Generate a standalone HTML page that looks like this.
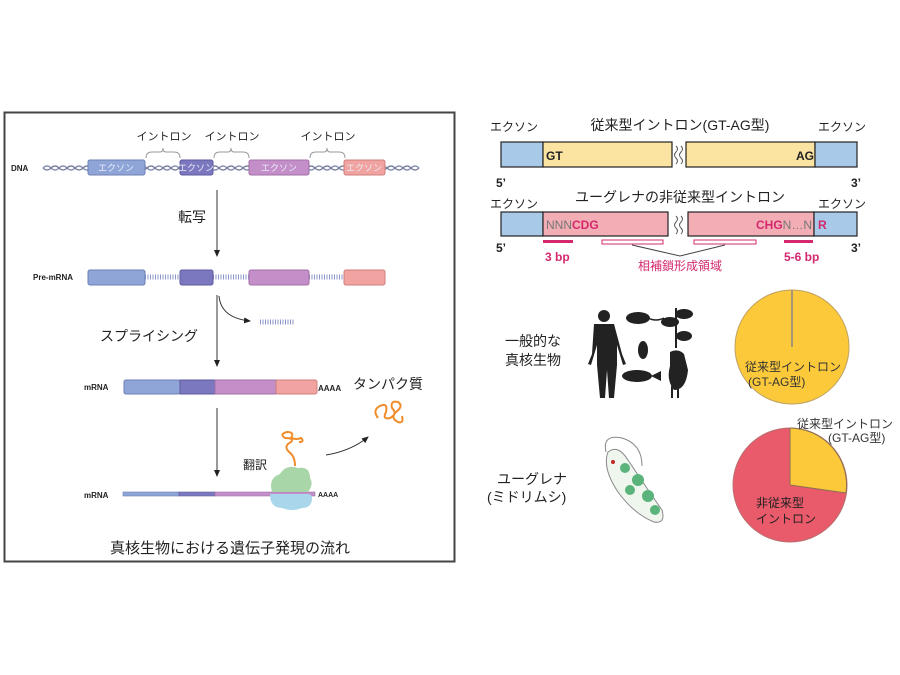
<!DOCTYPE html>
<html><head><meta charset="utf-8"><style>
html,body{margin:0;padding:0;background:#fff}
svg{display:block}
text{font-family:"Liberation Sans","Noto Sans CJK JP",sans-serif}
</style></head><body>
<svg width="900" height="675" viewBox="0 0 900 675" xmlns="http://www.w3.org/2000/svg">
<defs>
<marker id="ah" markerWidth="8" markerHeight="8" refX="6" refY="4" orient="auto"><path d="M0,1 L7,4 L0,7 z" fill="#222"/></marker>
</defs>
<rect x="4.5" y="112.5" width="450" height="449" fill="#fff" stroke="#444" stroke-width="2"/>
<path d="M43,168 q4,-4 8,0 t8,0 t8,0 t8,0 t8,0 t8,0 t8,0 t8,0 t8,0 t8,0 t8,0 t8,0 t8,0 t8,0 t8,0 t8,0 t8,0 t8,0 t8,0 t8,0 t8,0 t8,0 t8,0 t8,0 t8,0 t8,0 t8,0 t8,0 t8,0 t8,0 t8,0 t8,0 t8,0 t8,0 t8,0 t8,0 t8,0 t8,0 t8,0 t8,0 t8,0 t8,0 t8,0 t8,0 t8,0 t8,0 t8,0" fill="none" stroke="#8a94b8" stroke-width="1.5"/>
<path d="M43,168 q4,4 8,0 t8,0 t8,0 t8,0 t8,0 t8,0 t8,0 t8,0 t8,0 t8,0 t8,0 t8,0 t8,0 t8,0 t8,0 t8,0 t8,0 t8,0 t8,0 t8,0 t8,0 t8,0 t8,0 t8,0 t8,0 t8,0 t8,0 t8,0 t8,0 t8,0 t8,0 t8,0 t8,0 t8,0 t8,0 t8,0 t8,0 t8,0 t8,0 t8,0 t8,0 t8,0 t8,0 t8,0 t8,0 t8,0 t8,0" fill="none" stroke="#6d7494" stroke-width="1.2"/>
<text x="11" y="171" font-size="8" font-weight="bold" fill="#222">DNA</text>
<g stroke-width="1">
<rect x="88" y="160" width="57" height="15" rx="2" fill="#8fa5d8" stroke="#6c7fb5"/>
<rect x="180" y="160" width="33" height="15" rx="2" fill="#7b78bf" stroke="#5d5a9e"/>
<rect x="249" y="160" width="60" height="15" rx="2" fill="#c48fc9" stroke="#a06fa6"/>
<rect x="344" y="160" width="41" height="15" rx="2" fill="#f0a3a0" stroke="#cf7f7c"/>
</g>
<g font-size="9" fill="#e8ecf8" text-anchor="middle">
<text x="116" y="171">エクソン</text><text x="196" y="171">エクソン</text><text x="279" y="171">エクソン</text><text x="364" y="171">エクソン</text>
</g>
<g font-size="11" fill="#222" text-anchor="middle">
<text x="164" y="140">イントロン</text><text x="232" y="140">イントロン</text><text x="328" y="140">イントロン</text>
</g>
<g fill="none" stroke="#999" stroke-width="1">
<path d="M146,158 q0,-6 6,-6 h8 q3,0 3,-4 q0,4 3,4 h8 q6,0 6,6"/>
<path d="M214,158 q0,-6 6,-6 h8 q3,0 3,-4 q0,4 3,4 h9 q6,0 6,6"/>
<path d="M310,158 q0,-6 6,-6 h8 q3,0 3,-4 q0,4 3,4 h9 q6,0 6,6"/>
</g>
<g stroke="#333" stroke-width="1">
<line x1="217" y1="190" x2="217" y2="256" marker-end="url(#ah)"/>
<line x1="217" y1="295" x2="217" y2="366" marker-end="url(#ah)"/>
<line x1="217" y1="408" x2="217" y2="476" marker-end="url(#ah)"/>
<path d="M219,296 q2,22 31,25" fill="none" marker-end="url(#ah)"/>
<path d="M326,455 q25,-4 42,-18" fill="none" marker-end="url(#ah)"/>
</g>
<text x="178" y="222" font-size="14" fill="#222">転写</text>
<text x="33" y="280" font-size="8" font-weight="bold" fill="#222">Pre-mRNA</text>
<g stroke="#8a94c8" stroke-width="1" stroke-dasharray="1,1.5">
<line x1="145" y1="277" x2="180" y2="277" stroke-width="5"/>
<line x1="213" y1="277" x2="249" y2="277" stroke-width="5"/>
<line x1="309" y1="277" x2="344" y2="277" stroke-width="5"/>
<line x1="260" y1="322" x2="295" y2="322" stroke-width="5"/>
</g>
<rect x="88" y="270" width="57" height="15" rx="2" fill="#8fa5d8" stroke="#6c7fb5"/>
<rect x="180" y="270" width="33" height="15" rx="2" fill="#7b78bf" stroke="#5d5a9e"/>
<rect x="249" y="270" width="60" height="15" rx="2" fill="#c48fc9" stroke="#a06fa6"/>
<rect x="344" y="270" width="41" height="15" rx="2" fill="#f0a3a0" stroke="#cf7f7c"/>
<text x="100" y="341" font-size="14" fill="#222">スプライシング</text>
<text x="84" y="390" font-size="8" font-weight="bold" fill="#222">mRNA</text>
<rect x="124" y="380" width="56" height="14" rx="2" fill="#8fa5d8" stroke="#6c7fb5"/>
<rect x="180" y="380" width="35" height="14" fill="#7b78bf" stroke="#5d5a9e"/>
<rect x="215" y="380" width="61" height="14" fill="#c48fc9" stroke="#a06fa6"/>
<rect x="276" y="380" width="41" height="14" rx="2" fill="#f0a3a0" stroke="#cf7f7c"/>
<text x="318" y="391" font-size="8" font-weight="bold" fill="#222">AAAA</text>
<text x="353" y="389" font-size="14" fill="#222">タンパク質</text>
<path d="M378,418 q-6,-8 2,-12 q8,-4 6,6 q-4,8 4,6 q8,-4 2,-10 q-2,-8 6,-6 q6,4 -2,10 q-6,6 2,10 q6,2 4,-6" fill="none" stroke="#f08c2a" stroke-width="2"/>
<text x="84" y="498" font-size="8" font-weight="bold" fill="#222">mRNA</text>
<rect x="123" y="492" width="56" height="4" fill="#8fa5d8" stroke="#6c7fb5" stroke-width="0.6"/>
<rect x="179" y="492" width="36" height="4" fill="#7b78bf" stroke="#5d5a9e" stroke-width="0.6"/>
<rect x="215" y="492" width="100" height="4" fill="#c48fc9" stroke="#a06fa6" stroke-width="0.6"/>
<text x="318" y="497" font-size="7" font-weight="bold" fill="#222">AAAA</text>
<path d="M272,492 q-4,-14 8,-18 q6,-10 18,-6 q12,-2 12,10 q4,6 -2,14 z" fill="#a9d6a9"/>
<path d="M270,494 q0,14 12,14 q10,4 20,0 q10,0 10,-10 q0,-4 -4,-4 z" fill="#a9d6ea"/>
<path d="M295,466 q0,-10 -6,-14 q-6,-6 2,-10 q4,-4 -6,-4 q-6,-4 2,-6 q8,0 4,6 q6,2 10,0 q4,4 -2,4" fill="none" stroke="#f08c2a" stroke-width="2"/>
<text x="243" y="469" font-size="12" fill="#222">翻訳</text>
<text x="230" y="553" font-size="15" fill="#222" text-anchor="middle">真核生物における遺伝子発現の流れ</text>

<g font-size="12" fill="#222">
<text x="490" y="131">エクソン</text><text x="818" y="131">エクソン</text>
<text x="490" y="208">エクソン</text><text x="818" y="208">エクソン</text>
</g>
<text x="680" y="130" font-size="14" fill="#222" text-anchor="middle">従来型イントロン(GT-AG型)</text>
<text x="680" y="202" font-size="14" fill="#222" text-anchor="middle">ユーグレナの非従来型イントロン</text>
<g stroke="#222" stroke-width="1.2">
<rect x="501" y="142" width="42" height="25" fill="#a9c9e8"/>
<rect x="543" y="142" width="129" height="25" fill="#fbe3a2"/>
<rect x="686" y="142" width="129" height="25" fill="#fbe3a2"/>
<rect x="815" y="142" width="42" height="25" fill="#a9c9e8"/>
<rect x="501" y="212" width="42" height="24" fill="#a9c9e8"/>
<rect x="543" y="212" width="125" height="24" fill="#f2aeb4"/>
<rect x="688" y="212" width="126" height="24" fill="#f2aeb4"/>
<rect x="814" y="212" width="43" height="24" fill="#a9c9e8"/>
</g>
<g fill="none" stroke="#555" stroke-width="1">
<path d="M676,146 q3,3 0,6 q-3,3 0,6 q3,3 0,6"/><path d="M681,146 q3,3 0,6 q-3,3 0,6 q3,3 0,6"/>
<path d="M676,216 q3,3 0,6 q-3,3 0,6 q3,3 0,6"/><path d="M681,216 q3,3 0,6 q-3,3 0,6 q3,3 0,6"/>
</g>
<g font-size="12" font-weight="bold">
<text x="546" y="160" fill="#222">GT</text>
<text x="796" y="160" fill="#222">AG</text>
<text x="496" y="187" fill="#222">5’</text><text x="851" y="187" fill="#222">3’</text>
<text x="496" y="252" fill="#222">5’</text><text x="851" y="252" fill="#222">3’</text>
<text x="546" y="229"><tspan fill="#777" font-weight="normal">NNN</tspan><tspan fill="#d4286e">CDG</tspan></text>
<text x="812" y="229" text-anchor="end"><tspan fill="#d4286e">CHG</tspan><tspan fill="#777" font-weight="normal">N…N</tspan></text>
<text x="818" y="229" fill="#d4286e">R</text>
<text x="545" y="261" fill="#d4286e">3 bp</text>
<text x="784" y="261" fill="#d4286e">5-6 bp</text>
</g>
<rect x="543" y="240" width="30" height="3" fill="#d4286e"/>
<rect x="784" y="240" width="29" height="3" fill="#d4286e"/>
<rect x="602" y="240" width="61" height="4" fill="#fff" stroke="#d4286e" stroke-width="1"/>
<rect x="694" y="240" width="62" height="4" fill="#fff" stroke="#d4286e" stroke-width="1"/>
<path d="M632,245 L680,256 L725,245" fill="none" stroke="#444" stroke-width="1"/>
<text x="680" y="270" font-size="12" fill="#d4286e" text-anchor="middle">相補鎖形成領域</text>

<text x="505" y="346" font-size="14" fill="#222">一般的な</text>
<text x="505" y="365" font-size="14" fill="#222">真核生物</text>
<text x="497" y="484" font-size="14" fill="#222">ユーグレナ</text>
<text x="487" y="502" font-size="14" fill="#222">(ミドリムシ)</text>
<g fill="#222">
<circle cx="604" cy="316" r="6"/>
<path d="M594,324 h20 l8,30 l4,10 l-3,1 l-6,-20 v20 l-3,33 h-5 l-2,-28 l-2,28 h-5 l-3,-33 v-20 l-6,20 l-3,-1 l4,-10 z"/>
<ellipse cx="638" cy="318" rx="12" ry="6"/><path d="M648,318 q8,4 16,0" fill="none" stroke="#222" stroke-width="1.5"/>
<ellipse cx="643" cy="350" rx="5" ry="9"/>
<ellipse cx="637" cy="376" rx="15" ry="6"/><path d="M651,376 l10,-5 v10 z"/>
<path d="M670,352 q8,-4 14,2 l4,16 q-2,20 -14,20 q-8,-10 -4,-24 z"/><path d="M672,386 v12 M678,386 v12" stroke="#222" stroke-width="2"/>
<path d="M676,348 v-40" stroke="#222" stroke-width="2"/><ellipse cx="670" cy="322" rx="9" ry="5"/><ellipse cx="684" cy="314" rx="9" ry="5"/><ellipse cx="684" cy="336" rx="8" ry="5"/>
</g>
<path d="M606,452 q-4,-18 16,-14 q20,6 20,28" fill="none" stroke="#888" stroke-width="1"/>
<path d="M608,452 q10,-8 20,8 q20,30 34,50 q4,14 -8,12 q-20,-8 -36,-30 q-16,-24 -10,-40 z" fill="#eef6ee" stroke="#888" stroke-width="1"/>
<g fill="#5ab37a"><circle cx="625" cy="468" r="5"/><circle cx="638" cy="480" r="6"/><circle cx="630" cy="490" r="5"/><circle cx="648" cy="496" r="6"/><circle cx="655" cy="510" r="5"/></g>
<circle cx="613" cy="462" r="2" fill="#c0282a"/>
<circle cx="792" cy="347" r="57" fill="#fbc93a" stroke="#bfa060" stroke-width="1"/>
<line x1="792" y1="290" x2="792" y2="347" stroke="#888" stroke-width="1.5"/>
<text x="745" y="371" font-size="12" fill="#333">従来型イントロン</text>
<text x="748" y="386" font-size="12" fill="#333">(GT-AG型)</text>
<circle cx="790" cy="485" r="57" fill="#e95a6b" stroke="#b87070" stroke-width="1"/>
<path d="M790,485 L790,428 A57,57 0 0 1 846,493 Z" fill="#fbc93a" stroke="#8a7050" stroke-width="1"/>
<text x="797" y="428" font-size="12" fill="#333">従来型イントロン</text>
<text x="828" y="442" font-size="12" fill="#333">(GT-AG型)</text>
<text x="756" y="507" font-size="12" fill="#222">非従来型</text>
<text x="756" y="523" font-size="12" fill="#222">イントロン</text>
</svg>
</body></html>
